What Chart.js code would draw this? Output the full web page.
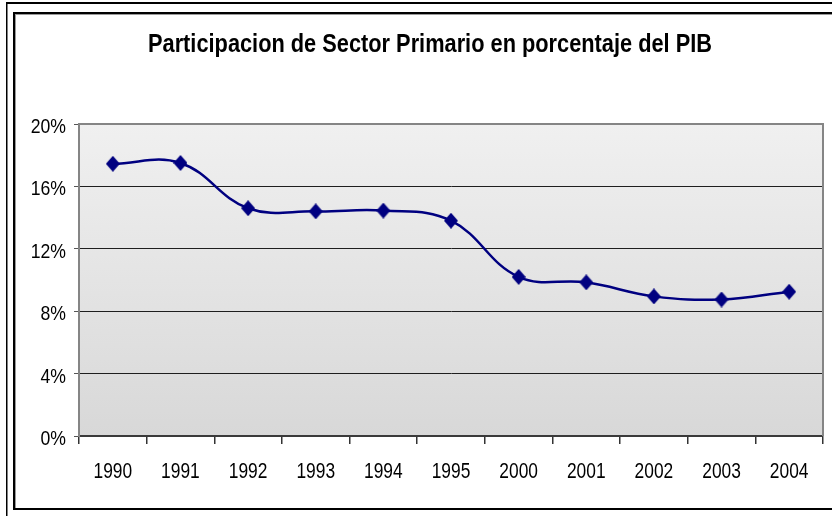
<!DOCTYPE html>
<html>
<head>
<meta charset="utf-8">
<script src="https://cdn.jsdelivr.net/npm/chart.js@4"></script>
<style>
  html, body { margin: 0; padding: 0; background: #fff; }
  canvas { display: block; }
</style>
</head>
<body>
<canvas id="c" width="832" height="516"></canvas>
<script>
// Share of the primary sector in GDP (%), by year
const years = ['1990', '1991', '1992', '1993', '1994', '1995', '2000', '2001', '2002', '2003', '2004'];
const sharePct = [17.45, 17.5, 14.6, 14.4, 14.45, 13.8, 10.2, 9.85, 8.95, 8.75, 9.25];
const yTickValues = [0, 4, 8, 12, 16, 20];
const chartTitle = 'Participacion de Sector Primario en porcentaje del PIB';

const NAVY = '#000080';
const FONT = "'Liberation Sans', Arial, sans-serif";

// Diamond marker, a little taller than wide
function makeDiamond(w, h, color) {
  const cv = document.createElement('canvas');
  cv.width = w; cv.height = h;
  const g = cv.getContext('2d');
  g.fillStyle = color;
  g.beginPath();
  g.moveTo(w / 2, 0);
  g.lineTo(w, h / 2);
  g.lineTo(w / 2, h);
  g.lineTo(0, h / 2);
  g.closePath();
  g.fill();
  return cv;
}
const diamond = makeDiamond(14, 16, NAVY);

// Narrow (horizontally condensed) text, in the style of Arial Narrow
function narrowText(ctx, str, x, y, size, weight, align, sx) {
  ctx.save();
  ctx.translate(x, y);
  ctx.scale(sx, 1);
  ctx.font = `${weight} ${size}px ${FONT}`;
  ctx.textAlign = align;
  ctx.textBaseline = 'alphabetic';
  ctx.fillStyle = '#000';
  ctx.fillText(str, 0, 0);
  ctx.restore();
}

// Page frame, shaded plot background, plot border and all labels
const framePlugin = {
  id: 'frame',
  beforeDraw(chart) {
    const { ctx, chartArea: a, width, height } = chart;
    ctx.save();
    ctx.fillStyle = '#fff';
    ctx.fillRect(0, 0, width, height);

    // outer rule
    ctx.fillStyle = '#000';
    ctx.fillRect(6, 2, width - 6, 2);
    ctx.fillRect(6, 2, 1.5, height - 2);

    // inner box
    ctx.fillRect(13, 12, width - 13, 2);
    ctx.fillRect(13, 12, 2, 498);
    ctx.fillRect(13, 508, width - 13, 2);
    ctx.fillStyle = '#9a9a9a';
    ctx.fillRect(15, 14, width - 15, 1);
    ctx.fillRect(15, 14, 1, 494);

    // plot background gradient
    const grad = ctx.createLinearGradient(0, a.top, 0, a.bottom);
    grad.addColorStop(0, '#f0f0f0');
    grad.addColorStop(1, '#d8d8d8');
    ctx.fillStyle = grad;
    ctx.fillRect(a.left, a.top, a.right - a.left, a.bottom - a.top);
    ctx.restore();
  },
  beforeDatasetsDraw(chart) {
    const { ctx, chartArea: a } = chart;
    ctx.save();
    ctx.strokeStyle = '#858585';
    ctx.lineWidth = 2;
    ctx.beginPath();
    ctx.moveTo(a.left, a.top);
    ctx.lineTo(a.right, a.top);
    ctx.lineTo(a.right, a.bottom);
    ctx.stroke();
    ctx.restore();
  },
  afterDraw(chart) {
    const { ctx } = chart;
    const xs = chart.scales.x, ys = chart.scales.y;

    // title
    ctx.save();
    ctx.font = `bold 25px ${FONT}`;
    const tw = ctx.measureText(chartTitle).width;
    ctx.restore();
    narrowText(ctx, chartTitle, 430, 52, 25, 'bold', 'center', 564 / tw);

    // category labels
    years.forEach((yr, i) => {
      narrowText(ctx, yr, xs.getPixelForValue(i), 478, 22, 'normal', 'center', 0.79);
    });

    // value labels
    yTickValues.forEach(v => {
      narrowText(ctx, v + '%', 66, ys.getPixelForValue(v) + 9, 21, 'normal', 'right', 0.84);
    });
  }
};

new Chart(document.getElementById('c'), {
  type: 'line',
  data: {
    labels: years,
    datasets: [{
      data: sharePct,
      borderColor: NAVY,
      backgroundColor: NAVY,
      borderWidth: 2.5,
      tension: 0.4,
      pointStyle: diamond,
      clip: false
    }]
  },
  plugins: [framePlugin],
  options: {
    responsive: false,
    animation: false,
    devicePixelRatio: 1,
    layout: { padding: { left: 0, right: 9, top: 124, bottom: 0 } },
    plugins: {
      legend: { display: false },
      tooltip: { enabled: false },
      title: { display: false }
    },
    scales: {
      x: {
        offset: true,
        afterFit(scale) { scale.height = 80; },
        grid: {
          offset: true,
          drawOnChartArea: false,
          tickLength: 8,
          tickColor: '#333',
          lineWidth: 1.5
        },
        border: { color: '#3a3a3a', width: 2 },
        ticks: {
          color: 'rgba(0,0,0,0)',
          font: { family: FONT, size: 20 },
          padding: 14,
          maxRotation: 0,
          autoSkip: false
        }
      },
      y: {
        min: 0,
        max: 20,
        afterFit(scale) { scale.width = 79; },
        afterBuildTicks(scale) {
          scale.ticks = yTickValues.map(v => ({ value: v }));
        },
        grid: {
          color: ctx => (ctx.tick && (ctx.tick.value === 20 || ctx.tick.value === 0)) ? 'rgba(0,0,0,0)' : '#1e1e1e',
          tickColor: '#555',
          tickLength: 5,
          lineWidth: 1
        },
        border: { color: '#858585', width: 2 },
        ticks: {
          color: 'rgba(0,0,0,0)',
          font: { family: FONT, size: 20 },
          padding: 8,
          callback: v => v + '%'
        }
      }
    }
  }
});
</script>
</body>
</html>
